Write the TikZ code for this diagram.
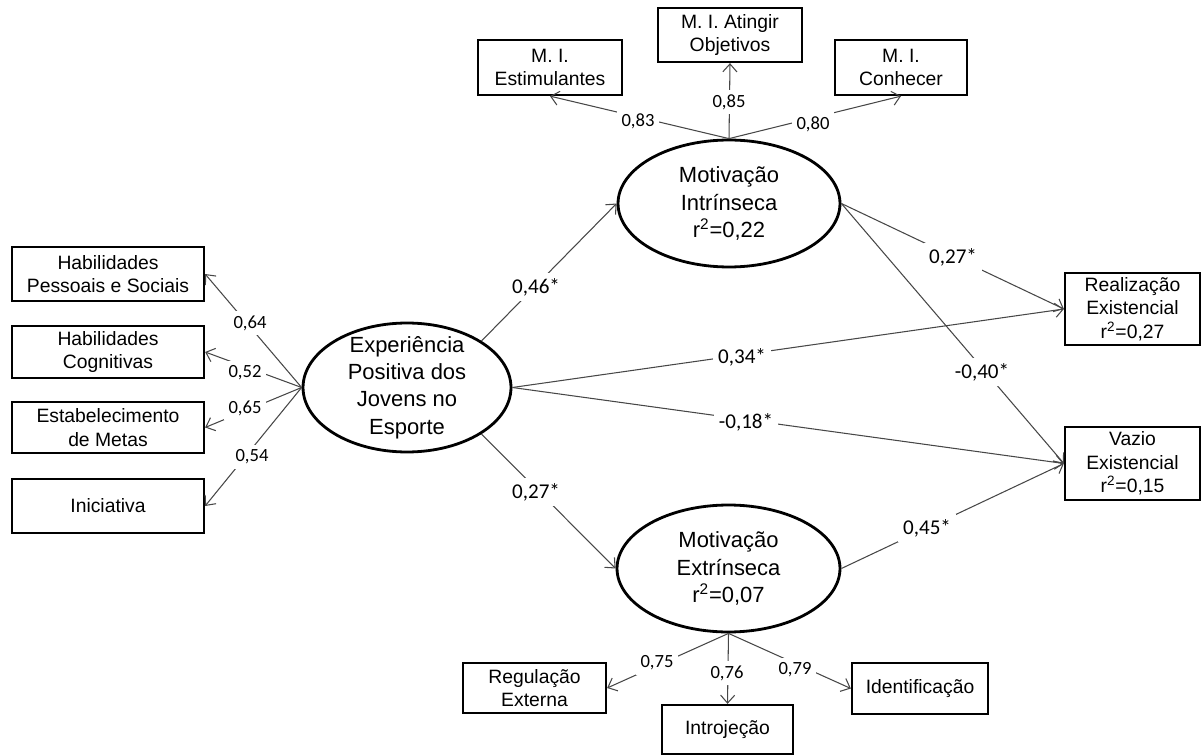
\documentclass[tikz,border=0pt]{standalone}
\usepackage{fontspec}
\setmainfont{Liberation Sans}
\newfontfamily\wfont{Carlito}
\usetikzlibrary{shapes.geometric,arrows.meta}

\begin{document}
\begin{tikzpicture}[x=0.02cm,y=-0.02cm,
  obs/.style={draw=black, line width=1.3pt, rectangle, align=center, inner sep=0pt,
    font=\fontsize{11}{13.4}\selectfont},
  lat/.style={draw=black, line width=1.6pt, ellipse, inner sep=0pt},
  lattext/.style={align=center, inner sep=0pt, font=\fontsize{12.5}{15.6}\selectfont},
  conn/.style={draw=black!72, line width=0.6pt, -{Straight Barb[length=4.5pt,width=8pt]}},
  load/.style={fill=white, inner sep=2.8pt, font=\wfont\fontsize{10.6}{12}\selectfont},
  coef/.style={fill=white, inner sep=2.8pt, font=\wfont\fontsize{12}{14}\selectfont},
]
\useasboundingbox (0,0) rectangle (1202,756);

% latent variables
\node[lat, minimum width=4.16cm, minimum height=2.58cm,
  label={[name=exptext, lattext]center:{Experiência\\Positiva dos\\Jovens no\\Esporte}}]
  (exp) at (407,387.5) {};
\node[lat, minimum width=4.44cm, minimum height=2.54cm,
  label={[name=mitext, lattext]center:{Motivação\\Intrínseca\\r\textsuperscript{2}=0,22}}]
  (mi) at (729,203.5) {};
\node[lat, minimum width=4.46cm, minimum height=2.54cm,
  label={[name=metext, lattext]center:{Motivação\\Extrínseca\\r\textsuperscript{2}=0,07}}]
  (me) at (728.5,568.5) {};

% indicators of intrinsic motivation
\node[obs, minimum width=2.88cm, minimum height=1.10cm] (estim) at (550,67.5) {M. I.\\Estimulantes};
\node[obs, minimum width=2.88cm, minimum height=1.08cm] (ating) at (730,35) {M. I. Atingir\\Objetivos};
\node[obs, minimum width=2.64cm, minimum height=1.10cm] (conh) at (901,67.5) {M. I.\\Conhecer};

% indicators of positive youth experience in sport
\node[obs, minimum width=3.84cm, minimum height=1.08cm] (hps) at (108,274) {Habilidades\\Pessoais e Sociais};
\node[obs, minimum width=3.84cm, minimum height=1.04cm] (hcog) at (108,352) {Habilidades\\Cognitivas};
\node[obs, minimum width=3.84cm, minimum height=1.02cm] (estab) at (108,427.5) {Estabelecimento\\de Metas};
\node[obs, minimum width=3.84cm, minimum height=1.08cm] (inic) at (108,506) {Iniciativa};

% outcomes
\node[obs, minimum width=2.70cm, minimum height=1.44cm] (real) at (1132.5,309) {Realização\\Existencial\\r\textsuperscript{2}=0,27};
\node[obs, minimum width=2.70cm, minimum height=1.46cm] (vazio) at (1132.5,463.5) {Vazio\\Existencial\\r\textsuperscript{2}=0,15};

% indicators of extrinsic motivation
\node[obs, minimum width=2.86cm, minimum height=1.00cm] (regul) at (534.5,688) {Regulação\\Externa};
\node[obs, minimum width=2.62cm, minimum height=0.98cm] (introj) at (727.5,729.5) {Introjeção};
\node[obs, minimum width=2.72cm, minimum height=1.02cm] (ident) at (920,688.5) {Identificação};

% loadings
\draw[conn] (mi.north) -- (estim.south);
\draw[conn] (mi.north) -- (ating.south);
\draw[conn] (mi.north) -- (conh.south);
\draw[conn] (exp.west) -- (hps.east);
\draw[conn] (exp.west) -- (hcog.east);
\draw[conn] (exp.west) -- (estab.east);
\draw[conn] (exp.west) -- (inic.east);
\draw[conn] (me.south) -- (regul.east);
\draw[conn] (me.south) -- (introj.north);
\draw[conn] (me.south) -- (ident.west);

% structural paths
\draw[conn] (exp.32) -- (mi.west);
\draw[conn] (exp.-32) -- (me.west);
\draw[conn] (exp.east) -- (real.west);
\draw[conn] (exp.east) -- (vazio.west);
\draw[conn] (mi.east) -- (real.west);
\draw[conn] (mi.east) -- (vazio.west);
\draw[conn] (me.east) -- (vazio.west);

% loading values
\node[load] (w83) at (638,121) {0,83};
\node[load] (w85) at (729,102) {0,85};
\node[load] (w80) at (813,124) {0,80};
\node[load] (w64) at (250,323) {0,64};
\node[load] (w52) at (245,373) {0,52};
\node[load] (w65) at (245,408) {0,65};
\node[load] (w54) at (252,457) {0,54};
\node[load] (w75) at (657,663) {0,75};
\node[load] (w76) at (727,673) {0,76};
\node[load] (w79) at (795,670) {0,79};

% path coefficients
\node[coef] (c46) at (536,287) {0,46*};
\node[coef] (c27a) at (536,492) {0,27*};
\node[coef] (c27b) at (953,257) {0,27*};
\node[coef] (c34) at (742,357) {0,34*};
\node[coef] (c40) at (982,372) {-0,40*};
\node[coef] (c18) at (746,422) {-0,18*};
\node[coef] (c45) at (927,528) {0,45*};
\end{tikzpicture}
\end{document}
